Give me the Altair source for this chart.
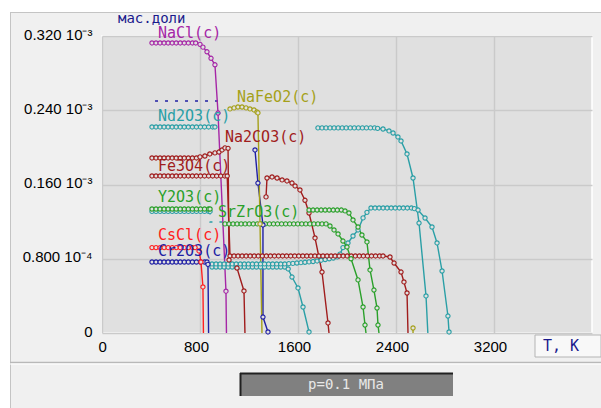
import altair as alt
import pandas as pd

# ---------------- data: T in K, mass fraction in units of 1e-3 ----------------
NACL = [(408,.3125),(441,.3125),(474,.3125),(507,.3125),(540,.3125),(573,.3125),(606,.3125),(639,.3125),
        (672,.3125),(705,.3125),(738,.3125),(765,.3125),(800,.311),(824,.308),(857,.303),(890,.296),
        (922,.289),(947,.237),(1012,.045),(1016,0)]
ND2O3_A = [(408,.222),(441,.222),(474,.222),(507,.222),(540,.222),(573,.222),(606,.222),(639,.222),(672,.222),
           (705,.222),(738,.222),(771,.222),(804,.222),(837,.222),(870,.222),(903,.222),(922,.222)]
ND2O3_B = [(1763,.221),(1796,.221),(1829,.221),(1862,.221),(1895,.221),(1928,.221),(1961,.221),(1994,.221),
           (2027,.221),(2060,.221),(2093,.221),(2126,.221),(2159,.221),(2192,.221),(2225,.221),(2250,.2205),
           (2294,.2198),(2343,.2177),(2376,.2155),(2416,.2112),(2441,.2069),(2490,.1929),(2539,.167),
           (2588,.1185),(2645,.0399),(2660,0)]
FE3O4 = [(408,.1886),(441,.1886),(474,.1886),(507,.1886),(540,.1886),(573,.1886),(606,.1886),(639,.1886),
         (672,.1886),(705,.1886),(738,.1886),(771,.1886),(800,.1897),(840,.1907),(880,.1929),(922,.194),
         (955,.195),(980,.1972),(1004,.1994),(1029,.199),(1037,.0787),(1102,.070),(1159,.0453),(1167,0)]
DR2 = [(408,.1692),(441,.1692),(474,.1692),(507,.1692),(540,.1692),(573,.1692),(606,.1692),(639,.1692),
       (672,.1692),(705,.1692),(738,.1692),(771,.1692),(804,.1692),(837,.1692),(870,.1692),(903,.1692),
       (936,.1692),(969,.1692),(1002,.1692),(1022,.1692),(1045,.083),(1078,.083),(1111,.083),(1144,.083),
       (1177,.083),(1210,.083),(1243,.083),(1276,.083),(1309,.083),(1342,.083),(1375,.083),(1408,.083),
       (1441,.083),(1474,.083),(1507,.083),(1540,.083),(1573,.083),(1606,.083),(1639,.083),(1672,.083),
       (1705,.083),(1738,.083),(1771,.083),(1804,.083),(1837,.083),(1870,.083),(1903,.083),(1936,.083),
       (1969,.083),(2002,.083),(2035,.083),(2068,.083),(2101,.083),(2134,.083),(2167,.083),(2200,.083),
       (2233,.083),(2266,.083),(2294,.083),(2351,.0819),(2384,.0754),(2441,.0657),(2465,.055),(2490,.0431),
       (2498,0)]
NA2CO3 = [(1339,.1466),(1347,.167),(1388,.1681),(1429,.167),(1470,.1649),(1510,.1638),(1551,.1616),
          (1576,.1584),(1616,.1541),(1657,.143),(1690,.1293),(1739,.1024),(1796,.0657),(1845,.0108),(1853,0)]
Y2O3_A = [(408,.1336),(441,.1336),(474,.1336),(507,.1336),(540,.1336),(573,.1336),(606,.1336),(639,.1336),
          (672,.1336),(705,.1336),(738,.1336),(771,.1336),(804,.1336),(837,.1336),(870,.1336),(882,.1336)]
Y2O3_B = [(1690,.1325),(1723,.1325),(1756,.1325),(1789,.1325),(1822,.1325),(1855,.1325),(1888,.1325),
          (1921,.1325),(1954,.1325),(1984,.1315),(2016,.1293),(2049,.1218),(2090,.1142),(2122,.1056),
          (2163,.0981),(2188,.0679),(2220,.0463),(2245,.0269),(2253,.0086),(2261,0)]
SRZRO3 = [(1004,.1175),(1037,.1175),(1070,.1175),(1103,.1175),(1136,.1175),(1169,.1175),(1202,.1175),
          (1235,.1175),(1268,.1175),(1301,.1175),(1334,.1175),(1367,.1175),(1400,.1175),(1433,.1175),
          (1466,.1175),(1499,.1175),(1532,.1175),(1565,.1175),(1598,.1175),(1631,.1175),(1664,.1175),
          (1697,.1175),(1730,.1175),(1763,.1175),(1796,.1175),(1829,.1175),(1861,.1153),(1894,.111),
          (1927,.1067),(1967,.0991),(2000,.0927),(2033,.08),(2090,.0572),(2131,.028),(2147,.0086),(2155,0)]
CSCL = [(408,.092),(441,.092),(474,.092),(507,.092),(540,.092),(573,.092),(606,.092),(639,.092),(672,.092),
        (705,.092),(738,.092),(760,.092),(792,.0884),(808,.0765),(824,.0496),(828,0)]
CR2O3 = [(408,.0765),(441,.0765),(474,.0765),(507,.0765),(540,.0765),(573,.0765),(606,.0765),(639,.0765),
         (672,.0765),(705,.0765),(738,.0765),(771,.0765),(804,.0765),(837,.0765),(857,.0765),(865,.074),(870,0)]
BLUE2 = [(1249,.1972),(1273,.1616),(1314,.1164),(1314,.0172),(1355,.0011),(1362,0)]
NAFEO2 = [(1045,.2414),(1078,.2425),(1110,.2435),(1143,.2435),(1176,.2425),(1208,.2414),(1241,.2403),
          (1265,.2381),(1273,.2371),(1290,.1175),(1306,0)]
OLIVE2 = [(2539,.0054),(2539,0)]
TEAL2 = [(898,.0744),(931,.0744),(964,.0744),(997,.0744),(1030,.0744),(1063,.0744),(1096,.0744),(1129,.0744),
         (1162,.0744),(1195,.0744),(1228,.0744),(1261,.0744),(1294,.0744),(1327,.0744),(1360,.0744),
         (1393,.0744),(1426,.0744),(1459,.0744),(1492,.0744),(1525,.0747),(1558,.075),(1591,.0754),
         (1624,.0758),(1657,.0762),(1690,.0766),(1723,.077),(1756,.0776),(1789,.0784),(1822,.0792),
         (1855,.08),(1888,.0808),(1921,.082),(1943,.085),(1967,.092),(2008,.097),(2049,.1045),(2090,.111),
         (2131,.124),(2163,.130),(2196,.1347),(2229,.1347),(2262,.1347),(2295,.1347),(2328,.1347),
         (2361,.1347),(2394,.1347),(2427,.1347),(2460,.1347),(2493,.1347),(2526,.1347),(2550,.134),
         (2580,.1325),(2637,.1239),(2694,.1142),(2735,.097),(2776,.0668),(2824,.0183),(2833,.0011),(2841,0)]
TEAL3_A = [(408,.131),(441,.131),(474,.131),(507,.131),(540,.131),(573,.131),(606,.131),(639,.131),
           (672,.131),(705,.131),(738,.131),(771,.131),(804,.131),(837,.131),(870,.131),(882,.131)]
TEAL3_B = [(898,.0711),(931,.0711),(964,.0711),(997,.0711),(1030,.0711),(1063,.0711),(1096,.0711),
           (1129,.0711),(1162,.0711),(1195,.0711),(1228,.0711),(1261,.0711),(1294,.0711),(1327,.0711),
           (1360,.0711),(1393,.0711),(1426,.0711),(1459,.0711),(1492,.0711),(1520,.069),(1551,.0603),
           (1600,.0485),(1641,.028),(1690,.0011),(1698,0)]
BLUE2_DASH = [(433,.25),(980,.25)]
TEAL3_DASH = [(882,.131),(882,.1196),(1000,.1196)]

# series labels: text, T, value, series
LABELS = [("NaCl(c)", 457, .3228, "nacl"),
          ("Nd2O3(c)", 457, .2338, "nd2o3"), ("NaFeO2(c)", 1102, .2543, "nafeo2"),
          ("Na2CO3(c)", 1004, .2112, "na2co3"), ("Fe3O4(c)", 457, .180, "fe3o4"),
          ("Y2O3(c)", 457, .1466, "y2o3"), ("SrZrO3(c)", 947, .1304, "srzro3"),
          ("CsCl(c)", 457, .1060, "cscl"), ("Cr2O3(c)", 457, .0884, "cr2o3")]
UNIT_LABEL = "мас.доли"
X_UNIT = "T, K"
PRESSURE = "p=0.1 МПа"

X_TICKS = [0, 800, 1600, 2400, 3200]
Y_TICKS = [0, 0.08, 0.16, 0.24, 0.32]
Y_TICK_LABELS = ["0", "0.800 10⁻⁴", "0.160 10⁻³", "0.240 10⁻³", "0.320 10⁻³"]

# ---------------- styles ----------------
TEAL, DRED, GREEN, BLUE, OLIVE = "#2a9fa6", "#a01c1c", "#2aa02a", "#1e1ea4", "#a5a01a"
NAVY = "#1a1a8c"
COLORS = {"nacl": "#a526a6", "nd2o3": TEAL, "teal2": TEAL, "teal3": TEAL, "fe3o4": DRED, "dr2": DRED,
          "na2co3": DRED, "y2o3": GREEN, "srzro3": GREEN, "cscl": "#ff2020", "cr2o3": BLUE,
          "blue2": BLUE, "nafeo2": OLIVE, "olive2": OLIVE}

SEGMENTS = [("teal3", "t3a", TEAL3_A), ("teal3", "t3b", TEAL3_B), ("teal2", "t2", TEAL2),
            ("nd2o3", "nda", ND2O3_A), ("nd2o3", "ndb", ND2O3_B), ("dr2", "dr2", DR2),
            ("fe3o4", "fe", FE3O4), ("na2co3", "na2", NA2CO3), ("y2o3", "ya", Y2O3_A),
            ("y2o3", "yb", Y2O3_B), ("srzro3", "sr", SRZRO3), ("cr2o3", "cr", CR2O3),
            ("cscl", "cs", CSCL), ("blue2", "b2", BLUE2), ("olive2", "o2", OLIVE2),
            ("nafeo2", "nf", NAFEO2), ("nacl", "nacl", NACL)]
DASHED = [("blue2", "b2d", BLUE2_DASH), ("teal3", "t3d", TEAL3_DASH)]


def to_df(segs):
    rows = []
    for s, (series, seg, pts) in enumerate(segs):
        for i, (t, v) in enumerate(pts):
            rows.append({"series": series, "seg": seg, "i": s * 1000 + i, "T": t, "v": v})
    return pd.DataFrame(rows)


lines_df = to_df(SEGMENTS)
dash_df = to_df(DASHED)
labels_df = pd.DataFrame(LABELS, columns=["text", "T", "v", "series"])
dummy = pd.DataFrame({"k": [0]})

label_expr = " : ".join(f"abs(datum.value-{v})<1e-9 ? '{l}'" for v, l in zip(Y_TICKS, Y_TICK_LABELS)) + " : ''"

X = alt.X("T:Q", scale=alt.Scale(domain=[0, 4000], nice=False, zero=False),
          axis=alt.Axis(values=X_TICKS, format="d", title=None, labelPadding=6, labelOffset=-4))
Y = alt.Y("v:Q", scale=alt.Scale(domain=[0, 0.32], nice=False, zero=False),
          axis=alt.Axis(values=Y_TICKS, labelExpr=label_expr, title=None, labelPadding=10, labelOffset=-2))
CSCALE = alt.Scale(domain=list(COLORS.keys()), range=list(COLORS.values()))

lines = alt.Chart(lines_df).mark_line(strokeWidth=1.4, clip=True).encode(
    x=X, y=Y, detail="seg:N", order="i:Q", color=alt.Color("series:N", scale=CSCALE, legend=None))
dashes = alt.Chart(dash_df).mark_line(strokeWidth=1.4, strokeDash=[3, 7], clip=True).encode(
    x=X, y=Y, detail="seg:N", order="i:Q", color=alt.Color("series:N", scale=CSCALE, legend=None))
points = alt.Chart(lines_df).transform_filter("datum.v > 0").mark_point(
    shape="circle", filled=True, fill="#e0e0e0", size=18, strokeWidth=1.1, opacity=1).encode(
    x=X, y=Y, stroke=alt.Stroke("series:N", scale=CSCALE, legend=None))
texts = alt.Chart(labels_df).mark_text(align="left", baseline="middle", font="DejaVu Sans Mono",
                                       fontSize=15).encode(
    x=X, y=Y, text="text:N", color=alt.Color("series:N", scale=CSCALE, legend=None))


def box(x, x2, y, y2, **kw):
    return alt.Chart(dummy).mark_rect(**kw).encode(
        x=alt.value(x), x2=alt.value(x2), y=alt.value(y), y2=alt.value(y2))


def hline(x, x2, y, color, w=1):
    return alt.Chart(dummy).mark_rule(color=color, strokeWidth=w).encode(
        x=alt.value(x), x2=alt.value(x2), y=alt.value(y))


def vline(x, y, y2, color, w=1):
    return alt.Chart(dummy).mark_rule(color=color, strokeWidth=w).encode(
        x=alt.value(x), y=alt.value(y), y2=alt.value(y2))


def label(txt, x, y, color, size=15, align="left"):
    return alt.Chart(dummy).mark_text(text=txt, align=align, baseline="middle", font="DejaVu Sans Mono",
                                      fontSize=size, color=color).encode(x=alt.value(x), y=alt.value(y))


frame = [
    box(-102, 499, -36, -24, color="white"),
    box(-102, -92, -36, 372, color="white"),
    hline(-92, 499, -23.5, "#c4c4c4"),
    vline(-91.5, -24, 372, "#c4c4c4"),
    hline(-92, 499, 326.5, "#b8b8b8", 1.5),
    hline(-92, 499, 328, "#ffffff", 1),
    box(138, 351, 337, 360, color="#808080"),
    hline(138, 351, 337.5, "#202020", 2),
    vline(138.5, 337, 360, "#202020", 2),
    label(PRESSURE, 244, 349, "#e8e8e8", 14, "center"),
    box(433, 499, 299, 321, fill="#f8f8f8", stroke="#b4b4b4", strokeWidth=1),
    label(X_UNIT, 441, 310, NAVY, 15),
    label(UNIT_LABEL, 16, -17, NAVY, 14),
]

chart = alt.layer(*frame, dashes, lines, points, texts).properties(
    width=490, height=297,
    autosize=alt.AutoSizeParams(type="none"),
    padding={"left": 102, "top": 36, "right": 9, "bottom": 75},
).configure(background="#f0f0f0").configure_view(
    fill="#e0e0e0", stroke="#ffffff", strokeWidth=1.5
).configure_axis(
    grid=True, gridColor="#cacaca", gridWidth=1.5, domain=False, ticks=False,
    labelFont="Liberation Sans", labelFontSize=15, labelColor="#000000"
)

chart.save("out.html", embed_options={"renderer": "svg", "actions": False})
